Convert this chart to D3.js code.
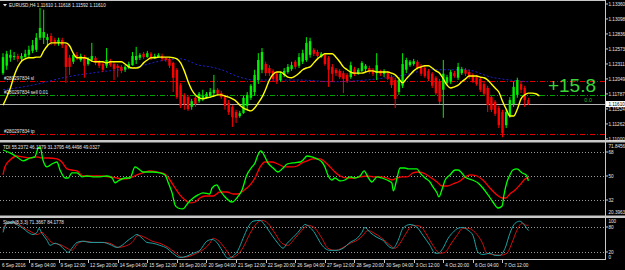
<!DOCTYPE html>
<html>
<head>
<meta charset="utf-8">
<script src="https://cdn.jsdelivr.net/npm/d3@7"></script>
<style>
  body { margin: 0; background: #000; }
  svg { display: block; }
  text { font-family: "Liberation Sans", Arial, sans-serif; }
</style>
</head>
<body>
<div id="chart"></div>
<script>
// EURUSD,H4 candles, one per bar: [open, high, low, close]
const candles = [
  [1.1215,1.1250,1.1212,1.1243],[1.1228,1.1254,1.1221,1.1249],[1.1242,1.1256,1.1235,1.1247],[1.1243,1.1252,1.1238,1.1245],
  [1.1245,1.1249,1.1235,1.1240],[1.1240,1.1250,1.1236,1.1245],[1.1243,1.1256,1.1242,1.1249],[1.1247,1.1263,1.1243,1.1256],
  [1.1254,1.1273,1.1250,1.1264],[1.1256,1.1285,1.1252,1.1277],[1.1277,1.1329,1.1273,1.1294],[1.1277,1.1326,1.1266,1.1287],
  [1.1273,1.1284,1.1261,1.1278],[1.1280,1.1285,1.1264,1.1270],[1.1273,1.1277,1.1263,1.1268],[1.1268,1.1277,1.1263,1.1273],
  [1.1273,1.1277,1.1259,1.1264],[1.1264,1.1268,1.1198,1.1226],[1.1242,1.1247,1.1212,1.1226],[1.1235,1.1250,1.1231,1.1247],
  [1.1247,1.1252,1.1238,1.1242],[1.1238,1.1249,1.1235,1.1245],[1.1243,1.1247,1.1207,1.1228],[1.1231,1.1243,1.1228,1.1240],
  [1.1238,1.1268,1.1235,1.1245],[1.1242,1.1245,1.1229,1.1233],[1.1235,1.1238,1.1224,1.1228],[1.1231,1.1235,1.1217,1.1221],
  [1.1228,1.1259,1.1224,1.1238],[1.1236,1.1240,1.1226,1.1229],[1.1231,1.1235,1.1203,1.1222],[1.1228,1.1231,1.1208,1.1224],
  [1.1226,1.1229,1.1215,1.1219],[1.1221,1.1229,1.1217,1.1226],[1.1224,1.1235,1.1222,1.1231],[1.1229,1.1252,1.1228,1.1245],
  [1.1238,1.1261,1.1231,1.1245],[1.1242,1.1250,1.1238,1.1247],[1.1249,1.1252,1.1240,1.1243],[1.1243,1.1254,1.1242,1.1250],
  [1.1249,1.1252,1.1238,1.1242],[1.1242,1.1249,1.1240,1.1245],[1.1243,1.1250,1.1242,1.1247],[1.1245,1.1249,1.1236,1.1240],
  [1.1242,1.1243,1.1235,1.1238],[1.1240,1.1243,1.1224,1.1228],[1.1233,1.1235,1.1182,1.1207],[1.1221,1.1224,1.1170,1.1173],
  [1.1194,1.1198,1.1154,1.1158],[1.1177,1.1180,1.1151,1.1161],[1.1173,1.1177,1.1149,1.1152],[1.1156,1.1170,1.1151,1.1166],
  [1.1172,1.1175,1.1156,1.1161],[1.1166,1.1182,1.1163,1.1179],[1.1170,1.1186,1.1166,1.1175],[1.1173,1.1182,1.1170,1.1179],
  [1.1175,1.1189,1.1172,1.1182],[1.1180,1.1212,1.1175,1.1186],[1.1186,1.1189,1.1175,1.1179],[1.1180,1.1184,1.1170,1.1173],
  [1.1173,1.1177,1.1151,1.1158],[1.1163,1.1168,1.1142,1.1147],[1.1156,1.1159,1.1121,1.1138],[1.1147,1.1151,1.1128,1.1137],
  [1.1140,1.1149,1.1137,1.1145],[1.1145,1.1175,1.1144,1.1172],[1.1158,1.1182,1.1151,1.1177],[1.1172,1.1196,1.1168,1.1193],
  [1.1182,1.1221,1.1175,1.1212],[1.1203,1.1250,1.1196,1.1238],[1.1221,1.1259,1.1215,1.1252],[1.1231,1.1235,1.1210,1.1215],
  [1.1224,1.1229,1.1210,1.1215],[1.1219,1.1222,1.1201,1.1205],[1.1214,1.1217,1.1196,1.1201],[1.1203,1.1217,1.1200,1.1214],
  [1.1212,1.1224,1.1208,1.1219],[1.1217,1.1231,1.1214,1.1226],[1.1222,1.1235,1.1219,1.1229],[1.1235,1.1238,1.1222,1.1226],
  [1.1228,1.1250,1.1224,1.1243],[1.1235,1.1256,1.1231,1.1250],[1.1238,1.1278,1.1235,1.1268],[1.1247,1.1277,1.1242,1.1271],
  [1.1256,1.1259,1.1245,1.1249],[1.1252,1.1256,1.1242,1.1245],[1.1243,1.1252,1.1242,1.1249],[1.1247,1.1250,1.1228,1.1231],
  [1.1242,1.1245,1.1191,1.1221],[1.1226,1.1231,1.1200,1.1214],[1.1221,1.1224,1.1210,1.1215],[1.1219,1.1222,1.1205,1.1208],
  [1.1215,1.1219,1.1180,1.1205],[1.1212,1.1215,1.1198,1.1201],[1.1208,1.1235,1.1205,1.1229],[1.1222,1.1226,1.1210,1.1214],
  [1.1214,1.1224,1.1212,1.1221],[1.1219,1.1236,1.1217,1.1233],[1.1222,1.1231,1.1217,1.1228],[1.1224,1.1228,1.1214,1.1217],
  [1.1221,1.1224,1.1210,1.1214],[1.1215,1.1250,1.1203,1.1229],[1.1219,1.1221,1.1210,1.1214],[1.1214,1.1222,1.1208,1.1219],
  [1.1215,1.1219,1.1203,1.1205],[1.1208,1.1212,1.1189,1.1194],[1.1203,1.1207,1.1154,1.1170],[1.1182,1.1208,1.1177,1.1203],
  [1.1193,1.1250,1.1189,1.1231],[1.1221,1.1242,1.1215,1.1238],[1.1229,1.1238,1.1226,1.1235],[1.1231,1.1240,1.1228,1.1236],
  [1.1235,1.1238,1.1221,1.1224],[1.1228,1.1231,1.1210,1.1214],[1.1224,1.1228,1.1207,1.1210],[1.1219,1.1222,1.1201,1.1205],
  [1.1214,1.1217,1.1189,1.1193],[1.1207,1.1210,1.1177,1.1180],[1.1201,1.1205,1.1161,1.1165],[1.1186,1.1238,1.1137,1.1214],
  [1.1198,1.1212,1.1194,1.1208],[1.1200,1.1221,1.1196,1.1217],[1.1215,1.1219,1.1207,1.1210],[1.1207,1.1233,1.1203,1.1226],
  [1.1215,1.1226,1.1212,1.1222],[1.1221,1.1224,1.1210,1.1214],[1.1217,1.1221,1.1205,1.1208],[1.1212,1.1215,1.1198,1.1201],
  [1.1208,1.1212,1.1193,1.1196],[1.1205,1.1208,1.1182,1.1186],[1.1196,1.1200,1.1175,1.1179],[1.1189,1.1193,1.1147,1.1159],
  [1.1173,1.1177,1.1147,1.1151],[1.1165,1.1168,1.1140,1.1144],[1.1154,1.1158,1.1119,1.1124],[1.1147,1.1151,1.1103,1.1110],
  [1.1124,1.1151,1.1119,1.1147],[1.1140,1.1173,1.1137,1.1168],[1.1161,1.1200,1.1156,1.1191],[1.1177,1.1207,1.1172,1.1203],
  [1.1196,1.1200,1.1180,1.1186],[1.1189,1.1193,1.1156,1.1168],[1.1168,1.1172,1.1159,1.1161]
]

// yellow moving average, one value per bar (runs a few bars past the last candle)
const yellowMA = [
  1.1159,1.1173,1.1189,1.1210,1.1226,1.1236,1.1240,1.1242,1.1242,1.1243,
  1.1243,1.1254,1.1263,1.1268,1.1268,1.1268,1.1268,1.1268,1.1263,1.1250,
  1.1242,1.1242,1.1242,1.1240,1.1236,1.1235,1.1235,1.1235,1.1233,1.1235,
  1.1235,1.1235,1.1235,1.1231,1.1226,1.1224,1.1224,1.1226,1.1233,1.1238,
  1.1242,1.1242,1.1243,1.1243,1.1243,1.1243,1.1242,1.1240,1.1233,1.1219,
  1.1201,1.1186,1.1177,1.1172,1.1170,1.1172,1.1173,1.1175,1.1177,1.1177,
  1.1175,1.1173,1.1170,1.1166,1.1159,1.1154,1.1151,1.1149,1.1154,1.1163,
  1.1173,1.1187,1.1203,1.1213,1.1217,1.1217,1.1213,1.1208,1.1207,1.1210,
  1.1215,1.1221,1.1224,1.1226,1.1233,1.1240,1.1245,1.1249,1.1249,1.1249,
  1.1243,1.1235,1.1226,1.1221,1.1217,1.1215,1.1215,1.1215,1.1217,1.1219,
  1.1219,1.1217,1.1217,1.1217,1.1217,1.1215,1.1212,1.1205,1.1198,1.1205,
  1.1212,1.1219,1.1224,1.1226,1.1228,1.1228,1.1224,1.1219,1.1215,1.1205,
  1.1194,1.1189,1.1191,1.1194,1.1200,1.1205,1.1210,1.1210,1.1210,1.1208,
  1.1207,1.1203,1.1196,1.1189,1.1182,1.1166,1.1152,1.1140,1.1140,1.1152,
  1.1170,1.1177,1.1180,1.1180,1.1179,1.1175
]

// slow blue dotted average: [bar, price]
const blueMA = [[0,1.1186],[8,1.1194],[17,1.1208],[26,1.1217],[35,1.1224],[44,1.1238],[48,1.1240],[53,1.1229],
  [56,1.1226],[59,1.1221],[64,1.1208],[68,1.1203],[80,1.1203],[89,1.1200],[98,1.1203],[107,1.1210],[116,1.1221],
  [125,1.1221],[132,1.1208],[137,1.1203],[142,1.1200]]

// TDI lines: [bar, value]
const tdiGreen = [[0,69.5],[1.9,67.3],[3.8,64.3],[5.4,61.3],[7.3,63.5],[8.6,64.3],[9.5,71],[10,71.8],[10.8,62],[11.9,56.8],
  [13.2,59],[14.6,60.5],[15.4,54.5],[16.8,48.5],[17.6,48.5],[18.6,52.3],[20,52.3],[21.4,49.3],[22.7,50],[24.3,49.3],
  [26.2,49.3],[28.1,50],[29.5,48.5],[30.3,44.8],[31.1,46.3],[33,48.5],[34.3,48.5],[35.7,56.8],[37,54.5],[37.8,53],
  [39.2,53],[40.5,53],[42.4,52.3],[43.8,50.8],[44.6,45.5],[45.7,37.3],[46.5,28.3],[47.3,26],[48.6,25.3],[50,29.8],
  [51.4,33.5],[52.7,35.8],[54.1,37.3],[55.9,36.5],[56.5,41],[57.8,43.3],[58.6,39.5],[60,34.3],[61.9,30.5],[63.2,33.5],
  [64.6,39.5],[65.9,50.8],[67.3,56.8],[68.1,59.8],[68.9,65.8],[69.7,68.8],[70.8,64.3],[71.6,59.8],[73,56],[74.3,53],
  [75.7,56],[76.8,59],[78.4,59.8],[80.3,60.5],[81.1,62],[82.2,65],[83.5,64.3],[84.9,62.8],[86.2,60.5],[87,56.8],
  [87.8,50.8],[88.9,47],[89.7,48.5],[91.1,46.3],[92.4,47],[93.8,49.3],[95.1,48.5],[96.5,50],[97.6,53.8],[98.6,49.3],
  [99.7,45.5],[101.1,49.3],[102.4,48.5],[103.8,47],[105.1,44.8],[105.5,38.8],[106.5,48.5],[107.3,56],[108.6,56],[109.5,55.3],
  [110.8,55.3],[111.9,55.3],[112.7,52.3],[114.1,48.5],[115.4,45.5],[116.2,41.8],[117.3,37.3],[117.8,34.3],[118.6,39.5],[119.5,47],
  [120.8,50.8],[122.2,54.5],[123,54.5],[124,52.3],[124.9,49.3],[126.8,47],[128.4,44.8],[129.7,41],[131.1,35.8],[132.4,30.5],
  [133.8,26],[134.9,27.5],[135.4,35.8],[136.2,45.5],[137,50.8],[137.8,54.5],[138.9,55.3],[140.3,52.3],[141.4,50.8],[142,46.4]]
const tdiRed = [[0,50.8],[0.5,56.8],[1.9,62],[3.8,65],[5.4,64.3],[7.3,63.5],[9.2,64.3],[10.5,63.5],[12.2,63.5],[14.6,62.8],
  [15.9,60.5],[17.3,55.3],[18.6,54.5],[20,53.8],[21.6,50],[23.5,50],[26.2,50],[28.9,49.3],[30.8,48.5],[32.4,47.8],
  [34.3,48.5],[36.2,50.8],[37.8,52.3],[39.7,53.8],[41.6,53],[43.8,51.5],[45.1,47],[46.5,41],[47.8,35.8],[49.2,32],
  [50.5,29.8],[51.9,30.5],[53.2,33.5],[54.6,35],[56.8,35],[58.6,38],[60.5,38],[62.2,36.5],[63.5,36.5],[64.9,38.8],
  [66.8,43.3],[68.1,48.5],[69.5,56.8],[70.8,60.5],[72.7,60.5],[74.3,59],[76.2,56.8],[78.1,56.8],[79.5,57.5],[80.8,59.8],
  [82.2,61.3],[83.8,62.8],[85.7,62.8],[87,60.5],[88.4,56.8],[89.7,53],[91.1,50],[93,48.5],[94.6,48.5],[96.5,49.3],
  [98.4,50],[100,49.3],[101.9,49.3],[103.8,48.5],[105.1,47],[106.5,48.5],[107.8,49.3],[109.2,49.3],[110.8,52.3],[112.2,53],
  [113.5,52.3],[115.4,49.3],[117.3,45.5],[118.6,42.5],[120,42.5],[121.6,44],[123.5,46.3],[124.9,49.3],[126.2,50.8],[128.1,50],
  [129.7,47],[131.6,41],[133.5,35.8],[134.9,33.5],[135.9,33.5],[137,36.5],[138.4,39.5],[139.7,43.3],[141.1,47.8],[142,49]]

// Stochastic (8,3,3): [bar, value]
const stochMain = [[0,67],[1.1,89],[2.7,91],[4.1,84],[5.4,77],[6.8,67],[8.1,62],[9.2,67],[9.7,77],[10.5,65],
  [11.9,48],[12.7,36],[14.1,41],[15.4,36],[16.8,24],[17.6,19],[18.6,29],[20,43],[21.6,46],[23.5,43],
  [25.4,43],[27,43],[28.9,38],[30.8,31],[32.2,36],[33.5,46],[34.9,55],[36.2,62],[37.6,53],[38.9,43],
  [40.5,41],[42.4,36],[44.3,29],[45.9,17],[47.8,7],[49.7,10],[51.4,17],[53.2,24],[55.1,46],[56.5,50],
  [57.8,43],[59.2,24],[60.8,5],[62.2,10],[63.5,24],[64.9,53],[66.2,79],[67.6,94],[69.5,96],[70.8,84],
  [72.7,60],[74.3,41],[75.7,29],[76.8,41],[78.4,55],[79.7,67],[80.8,79],[81.6,86],[83,79],[84.3,65],
  [85.7,43],[87,29],[88.4,24],[90.3,24],[91.9,29],[93.8,43],[95.7,53],[97,67],[97.8,79],[99.2,67],
  [101.1,55],[102.7,48],[104.6,31],[105.4,29],[106.8,48],[108.1,77],[110,86],[111.9,79],[113.5,60],[115.4,36],
  [116.8,17],[117.6,17],[118.9,29],[120.3,53],[121.6,67],[123,77],[124.3,79],[125.7,72],[127,60],[128.4,19],
  [129.7,14],[131.6,17],[133,12],[134.3,12],[135.7,29],[137,65],[138.4,89],[139.7,94],[140.8,86],[142,71.4]]
const stochSignal = [[0,72],[0.5,84],[1.9,91],[3.8,89],[5.4,79],[7.3,70],[9.2,62],[10.5,67],[11.9,55],[13.5,41],
  [15.4,38],[17.3,29],[18.6,24],[20.3,41],[22.2,46],[24.3,43],[26.8,43],[28.9,41],[31.1,31],[33,34],
  [34.9,43],[36.5,60],[38.4,55],[40.3,46],[42.4,41],[44.6,31],[46.5,19],[48.4,7],[50.5,10],[52.7,19],
  [54.6,29],[55.9,41],[56.8,53],[58.1,48],[60,29],[61.9,7],[63.2,12],[64.9,31],[66.8,65],[68.6,89],
  [70,96],[71.6,89],[73.5,65],[75.4,41],[77,36],[78.9,53],[80.8,72],[82.4,84],[84.3,77],[86.2,53],
  [87.8,29],[89.7,24],[91.6,29],[93.8,41],[95.7,48],[97.3,60],[98.6,72],[100,67],[102.4,53],[104.6,36],
  [105.9,29],[107.3,41],[108.6,60],[110.8,84],[112.7,82],[114.6,60],[116.2,36],[118.1,17],[119.5,19],[120.8,36],
  [122.7,60],[124.3,77],[125.7,77],[127.6,67],[129.5,43],[130.8,17],[132.4,14],[134.3,12],[136.2,17],[137.6,43],
  [138.9,72],[140.3,89],[141.6,84],[142,84.2]]

// axis labels
const priceTicks = [1.13360, 1.13098, 1.12836, 1.12573, 1.12311, 1.12049, 1.11787, 1.11524, 1.11262, 1.11000]
const tdiLevels = [68, 50, 32]
const stochLevels = [80, 20]
const timeLabels = [[0,"6 Sep 2016"],[7,"8 Sep 04:00"],[15,"9 Sep 12:00"],[23,"12 Sep 20:00"],[31,"14 Sep 04:00"],
  [39,"15 Sep 12:00"],[47,"16 Sep 20:00"],[55,"20 Sep 04:00"],[63,"21 Sep 12:00"],[71,"22 Sep 20:00"],
  [79,"26 Sep 04:00"],[87,"27 Sep 12:00"],[95,"28 Sep 20:00"],[103,"30 Sep 04:00"],[111,"3 Oct 12:00"],
  [119,"4 Oct 20:00"],[127,"6 Oct 04:00"],[135,"7 Oct 12:00"]]

// trade levels
const bidPrice = 1.11610
const orderLines = [
  {price: 1.1201, label: "#280297834 sl", color: "#e00000"},
  {price: 1.1176, label: "#280297834 sell 0.01", color: "#00a000"},
  {price: 1.1108, label: "#280297834 tp", color: "#e00000"}
]
const headerText = "EURUSD,H4  1.11610 1.11618 1.11592 1.11610"
const tdiText = "TDI 55.2372 46.1279 31.3795 46.4498 49.0327"
const stochText = "Stoch(8,3,3) 71.3667 84.1778"

const width = 625, height = 270
const axisX = 605
const small = "4.6px"
const fg = "#e8e8e8"

const svg = d3.select("#chart")
  .append("svg")
  .attr("width", width)
  .attr("height", height)
  .style("background", "#000")

// scales
const x = d3.scaleLinear().domain([0, 142]).range([3, 528.4])
const y = d3.scaleLinear().domain([1.1100, 1.1336]).range([138.9, 4])
const yTdi = d3.scaleLinear().domain([32, 68]).range([200, 152])
const ySto = d3.scaleLinear().domain([20, 80]).range([252, 227])

// clip areas for the three windows
const defs = svg.append("defs")
defs.append("clipPath").attr("id", "clipMain").append("rect").attr("x", 0).attr("y", 1).attr("width", axisX).attr("height", 139)
defs.append("clipPath").attr("id", "clipTdi").append("rect").attr("x", 0).attr("y", 143).attr("width", axisX).attr("height", 73)
defs.append("clipPath").attr("id", "clipSto").append("rect").attr("x", 0).attr("y", 218).attr("width", axisX).attr("height", 41)

const main = svg.append("g").attr("clip-path", "url(#clipMain)")
const tdi = svg.append("g").attr("clip-path", "url(#clipTdi)")
const sto = svg.append("g").attr("clip-path", "url(#clipSto)")

// ---------- main window ----------
// order lines (dash dot)
main.selectAll(".order")
  .data(orderLines)
  .join("line")
  .attr("x1", 0).attr("x2", axisX)
  .attr("y1", d => Math.round(y(d.price)) + 0.5)
  .attr("y2", d => Math.round(y(d.price)) + 0.5)
  .attr("stroke", d => d.color)
  .attr("stroke-width", 1)
  .attr("stroke-dasharray", "5,2,1,2")

// bid line
main.append("line")
  .attr("x1", 0).attr("x2", axisX)
  .attr("y1", Math.round(y(bidPrice)) + 0.5).attr("y2", Math.round(y(bidPrice)) + 0.5)
  .attr("stroke", "#b4b4b4")

// blue slow average
main.append("path")
  .datum(blueMA)
  .attr("fill", "none")
  .attr("stroke", "#2020d0")
  .attr("stroke-width", 1)
  .attr("stroke-dasharray", "2,2")
  .attr("d", d3.line().x(d => x(d[0])).y(d => y(d[1])).curve(d3.curveMonotoneX))

// candles
const bars = main.selectAll(".bar")
  .data(candles)
  .join("g")
const colorOf = d => d[3] >= d[0] ? "#00f000" : "#ff0000"
bars.append("line")
  .attr("x1", (d, i) => x(i)).attr("x2", (d, i) => x(i))
  .attr("y1", d => y(d[1])).attr("y2", d => y(d[2]))
  .attr("stroke", colorOf)
  .attr("stroke-width", 1)
bars.append("rect")
  .attr("x", (d, i) => x(i) - 1.2)
  .attr("width", 2.4)
  .attr("y", d => y(Math.max(d[0], d[3])))
  .attr("height", d => Math.max(0.8, Math.abs(y(d[0]) - y(d[3]))))
  .attr("fill", colorOf)

// yellow average
main.append("path")
  .datum(yellowMA)
  .attr("fill", "none")
  .attr("stroke", "#ffff00")
  .attr("stroke-width", 1.4)
  .attr("d", d3.line().x((d, i) => x(i)).y(d => y(d)).curve(d3.curveMonotoneX))

// order labels
main.selectAll(".orderLabel")
  .data(orderLines)
  .join("text")
  .attr("x", 4)
  .attr("y", d => y(d.price) - 1.5)
  .style("font-size", small)
  .style("fill", fg)
  .text(d => d.label)

// profit text
main.append("text")
  .attr("x", 596).attr("y", 92)
  .attr("text-anchor", "end")
  .style("font-size", "19px")
  .style("fill", "#3ad43a")
  .text("+15.8")
main.append("text")
  .attr("x", 592).attr("y", 101.5)
  .attr("text-anchor", "end")
  .style("font-size", "5.5px")
  .style("fill", "#30b030")
  .text("0.0")

// header
svg.append("path").attr("d", "M3,4 L7,4 L5,6.5 Z").attr("fill", fg)
svg.append("text")
  .attr("x", 9).attr("y", 7)
  .style("font-size", small)
  .style("fill", fg)
  .text(headerText)

// ---------- TDI window ----------
tdi.selectAll(".lvl")
  .data(tdiLevels)
  .join("line")
  .attr("x1", 0).attr("x2", axisX)
  .attr("y1", d => Math.round(yTdi(d)) + 0.5).attr("y2", d => Math.round(yTdi(d)) + 0.5)
  .attr("stroke", "#9a9a9a")
  .attr("stroke-dasharray", "1,2")

const lineXY = (sc) => d3.line().x(d => x(d[0])).y(d => sc(d[1])).curve(d3.curveMonotoneX)
tdi.append("path").datum(tdiRed).attr("fill", "none").attr("stroke", "#ff0000").attr("stroke-width", 1.3).attr("d", lineXY(yTdi))
tdi.append("path").datum(tdiGreen).attr("fill", "none").attr("stroke", "#00ff00").attr("stroke-width", 1.3).attr("d", lineXY(yTdi))

svg.append("text")
  .attr("x", 3).attr("y", 149)
  .style("font-size", small)
  .style("fill", fg)
  .text(tdiText)

// ---------- Stochastic window ----------
sto.selectAll(".lvl")
  .data(stochLevels)
  .join("line")
  .attr("x1", 0).attr("x2", axisX)
  .attr("y1", d => Math.round(ySto(d)) + 0.5).attr("y2", d => Math.round(ySto(d)) + 0.5)
  .attr("stroke", "#9a9a9a")
  .attr("stroke-dasharray", "1,2")

sto.append("path").datum(stochSignal).attr("fill", "none").attr("stroke", "#d01010").attr("stroke-width", 1).attr("d", lineXY(ySto))
sto.append("path").datum(stochMain).attr("fill", "none").attr("stroke", "#1aa3a3").attr("stroke-width", 1).attr("d", lineXY(ySto))

svg.append("text")
  .attr("x", 3).attr("y", 224)
  .style("font-size", small)
  .style("fill", fg)
  .text(stochText)

// ---------- frames ----------
svg.append("line").attr("x1", 0).attr("x2", axisX).attr("y1", 0.5).attr("y2", 0.5).attr("stroke", "#c8c8c8")
svg.append("rect").attr("x", 0).attr("y", 140).attr("width", width).attr("height", 2.5).attr("fill", "#c8c8c8")
svg.append("rect").attr("x", 0).attr("y", 215.5).attr("width", width).attr("height", 2.5).attr("fill", "#c8c8c8")
svg.append("line").attr("x1", 0).attr("x2", axisX + 0.5).attr("y1", 259.5).attr("y2", 259.5).attr("stroke", "#c8c8c8")
svg.append("line").attr("x1", axisX + 0.5).attr("x2", axisX + 0.5).attr("y1", 0).attr("y2", 260).attr("stroke", "#c8c8c8")

// ---------- right axis labels ----------
const rightAxis = svg.append("g")
rightAxis.selectAll(".pt")
  .data(priceTicks)
  .join("g")
  .each(function (d) {
    const g = d3.select(this)
    const yy = y(d)
    g.append("line").attr("x1", axisX).attr("x2", axisX + 3).attr("y1", yy).attr("y2", yy).attr("stroke", "#c8c8c8")
    g.append("text").attr("x", axisX + 3.5).attr("y", yy).attr("dy", "0.35em")
      .style("font-size", small).style("fill", fg).text(d.toFixed(5))
  })

// bid price box
rightAxis.append("rect")
  .attr("x", axisX + 1).attr("y", y(bidPrice) - 3)
  .attr("width", 19).attr("height", 6)
  .attr("fill", "#ffffff")
rightAxis.append("text")
  .attr("x", axisX + 3.5).attr("y", y(bidPrice)).attr("dy", "0.35em")
  .style("font-size", small).style("fill", "#000")
  .text(bidPrice.toFixed(5))

// TDI axis
const tdiLabels = [[146.5, "71.8456"], [yTdi(68), "68"], [yTdi(50), "50"], [yTdi(32), "32"], [212.5, "20.3963"]]
rightAxis.selectAll(".tl")
  .data(tdiLabels)
  .join("text")
  .attr("x", axisX + 3.5).attr("y", d => d[0]).attr("dy", "0.35em")
  .style("font-size", small).style("fill", fg)
  .text(d => d[1])
rightAxis.selectAll(".tt")
  .data(tdiLevels)
  .join("line")
  .attr("x1", axisX).attr("x2", axisX + 3)
  .attr("y1", d => yTdi(d)).attr("y2", d => yTdi(d))
  .attr("stroke", "#c8c8c8")

// Stochastic axis
const stoLabels = [[221, "100"], [ySto(80), "80"], [ySto(20), "20"], [257, "0"]]
rightAxis.selectAll(".sl")
  .data(stoLabels)
  .join("text")
  .attr("x", axisX + 3.5).attr("y", d => d[0]).attr("dy", "0.35em")
  .style("font-size", small).style("fill", fg)
  .text(d => d[1])
rightAxis.selectAll(".st")
  .data(stochLevels)
  .join("line")
  .attr("x1", axisX).attr("x2", axisX + 3)
  .attr("y1", d => ySto(d)).attr("y2", d => ySto(d))
  .attr("stroke", "#c8c8c8")

// ---------- time axis ----------
const timeAxis = svg.append("g")
timeAxis.selectAll("line")
  .data(timeLabels.slice(1))
  .join("line")
  .attr("x1", d => Math.round(x(d[0])) + 0.5).attr("x2", d => Math.round(x(d[0])) + 0.5)
  .attr("y1", 260).attr("y2", 263)
  .attr("stroke", "#c8c8c8")
timeAxis.selectAll("text")
  .data(timeLabels)
  .join("text")
  .attr("x", d => d[0] === 0 ? 2 : x(d[0]) + 2)
  .attr("y", 266.5)
  .style("font-size", small)
  .style("fill", fg)
  .text(d => d[1])
</script>
</body>
</html>
